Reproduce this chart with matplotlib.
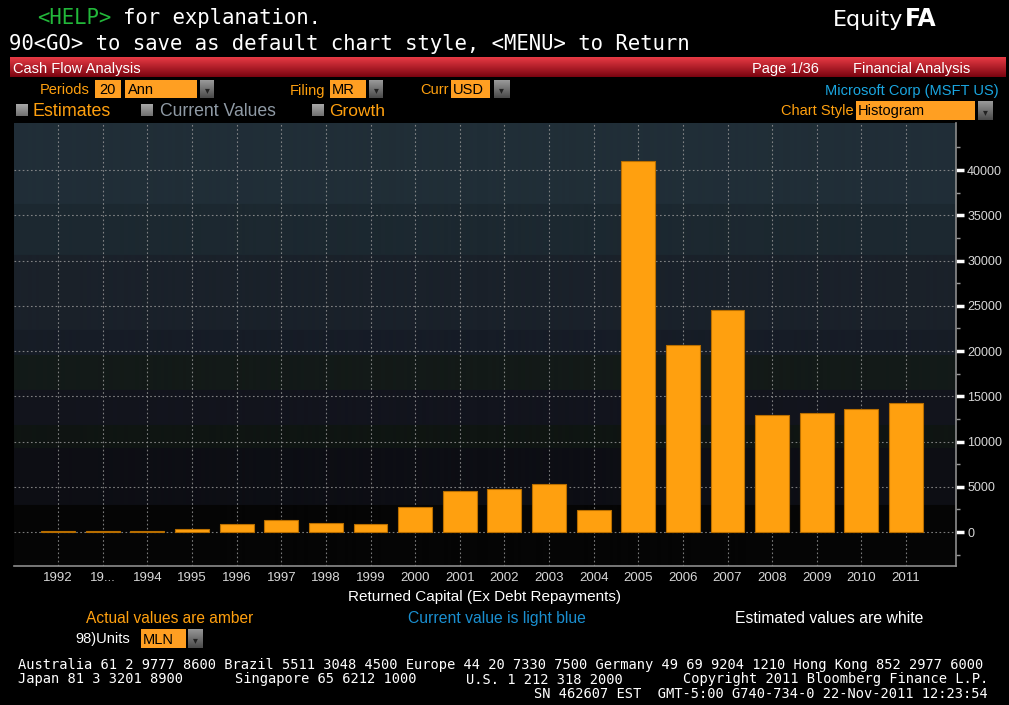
import numpy as np
import matplotlib
matplotlib.use("Agg")
import matplotlib.pyplot as plt
from matplotlib import font_manager
from matplotlib.patches import Rectangle
from matplotlib.colors import to_rgb

# data (USD millions)
years = ['1992', '19...', '1994', '1995', '1996', '1997', '1998', '1999', '2000', '2001',
         '2002', '2003', '2004', '2005', '2006', '2007', '2008', '2009', '2010', '2011']
returned_capital = [90, 70, 80, 350, 850, 1290, 990, 850, 2800, 4560,
                    4710, 5300, 2430, 41010, 20620, 24530, 12900, 13190, 13560, 14300]
y_ticks = [0, 5000, 10000, 15000, 20000, 25000, 30000, 35000, 40000]

AMBER = '#ffa00f'
BOX = '#ff9f22'
W, H = 1009, 705

installed = {f.name for f in font_manager.fontManager.ttflist}
NARROW = 'Liberation Sans Narrow' if 'Liberation Sans Narrow' in installed else 'Liberation Sans'
MONO = 'DejaVu Sans Mono'


def fx(x):
    return x / W


def fy(y):
    return 1 - y / H


def txt(x, y, s, size=10, color='white', ha='left', family=NARROW, **kw):
    # text boxes sit a touch high with va='center', nudge them down
    fig.text(fx(x), fy(y + 1.5), s, size=size, color=color, ha=ha, va='center', family=family, **kw)


def rect(x0, y0, x1, y1, color, **kw):
    fig.patches.append(Rectangle((fx(x0), fy(y1)), fx(x1) - fx(x0), fy(y0) - fy(y1),
                                 transform=fig.transFigure, facecolor=color, **kw))


def gradient_box(x0, y0, x1, y1, top, bottom):
    a = fig.add_axes([fx(x0), fy(y1), fx(x1) - fx(x0), fy(y0) - fy(y1)])
    t = np.linspace(0, 1, 50)[:, None]
    img = (1 - t) * np.array(to_rgb(top)) + t * np.array(to_rgb(bottom))
    a.imshow(img[:, None, :].repeat(2, axis=1), aspect='auto', extent=(0, 1, 0, 1))
    a.axis('off')
    return a


def dropdown(x0, y0, x1, y1):
    gradient_box(x0, y0, x1, y1, '#9a9a9a', '#4a4a4a')
    txt((x0 + x1) / 2, (y0 + y1) / 2, '▾', size=7, color='#222222', ha='center', family='DejaVu Sans')


def checkbox(x0, y0):
    gradient_box(x0, y0, x0 + 12, y0 + 12, '#a8a8a8', '#707070')


fig = plt.figure(figsize=(W / 100, H / 100), dpi=100, facecolor='black')

# header
txt(37, 17, '<HELP>', size=14.85, color='#22b83a', family=MONO)
txt(123, 17, 'for explanation.', size=14.85, family=MONO)
txt(9, 43, '90<GO> to save as default chart style, <MENU> to Return', size=14.85, family=MONO)
txt(903, 18, 'Equity', size=16, ha='right', family='DejaVu Sans')
txt(905, 18, 'FA', size=17, weight='bold', family='DejaVu Sans')

# red title bar
gradient_box(10, 57, 1006, 77, '#e83a44', '#7a0410')
txt(13, 67, 'Cash Flow Analysis', size=10.5)
txt(752, 67, 'Page 1/36', size=10.5)
txt(853, 67, 'Financial Analysis', size=10.5)

# control rows
txt(40, 89, 'Periods', size=10.5, color=AMBER)
rect(95, 80, 121, 98, BOX)
txt(99, 89, '20', size=10.5, color='black')
rect(125, 80, 197, 98, BOX)
txt(128, 89, 'Ann', size=10.5, color='black')
dropdown(200, 80, 214, 98)
txt(290, 89, 'Filing', size=10.5, color=AMBER)
rect(330, 80, 366, 98, BOX)
txt(332, 89, 'MR', size=10.5, color='black')
dropdown(369, 80, 383, 98)
txt(420, 89, 'Curr', size=10.5, color=AMBER)
rect(451, 80, 490, 98, BOX)
txt(453, 89, 'USD', size=10.5, color='black')
dropdown(494, 80, 509, 98)
txt(999, 89, 'Microsoft Corp (MSFT US)', size=10.5, color='#1aa6e0', ha='right')

checkbox(16, 104)
txt(33, 110, 'Estimates', size=12.9, color=AMBER)
checkbox(141, 104)
txt(160, 110, 'Current Values', size=12.7, color='#8f9aa5')
checkbox(312, 104)
txt(329, 110, 'Growth', size=12.5, color=AMBER)
txt(854, 110, 'Chart Style', size=10.5, color=AMBER, ha='right')
rect(856, 101, 975, 120, BOX)
txt(858, 110, 'Histogram', size=10.5, color='black')
dropdown(978, 101, 993, 120)

# chart
ax = fig.add_axes([fx(14), fy(566), fx(956) - fx(14), fy(123) - fy(566)])
ax.set_facecolor('black')

# stepped dark gradient behind the plot
edges = [0.0, 0.138, 0.266, 0.318, 0.397, 0.476, 0.533, 0.702, 0.819, 1.0]
band_colors = ['#050505', '#0d0e14', '#0f1512', '#12141d', '#131a18',
               '#161c26', '#1a212a', '#1c2830', '#202e37']
rows = np.linspace(0, 1, 443)
bg = np.zeros((len(rows), 1, 3))
for lo, hi, c in zip(edges[:-1], edges[1:], band_colors):
    bg[(rows >= lo) & (rows <= hi), 0, :] = to_rgb(c)
ax.imshow(bg[::-1], aspect='auto', extent=(0, 1, 0, 1), transform=ax.transAxes, zorder=0)

x = np.arange(len(years))
ax.bar(x, returned_capital, width=0.76, color=AMBER, edgecolor='#b86e00', linewidth=0.8, zorder=3)

ax.set_xlim(-0.99, len(years) - 1 + 1.12)
ax.set_ylim(-3750, 45200)
ax.set_xticks(x)
ax.set_xticklabels(years)
ax.set_yticks(y_ticks)
ax.set_yticks(np.arange(-2500, 45000, 2500), minor=True)
ax.yaxis.tick_right()
ax.tick_params(axis='x', length=0, pad=4, labelsize=9.5, labelcolor='#d8d8d8')
ax.tick_params(axis='y', which='major', length=6, width=2.5, color='white', pad=2,
               labelsize=9, labelcolor='#d8d8d8')
ax.tick_params(axis='y', which='minor', length=3, width=1, color='#9a9a9a')
for lab in ax.get_xticklabels() + ax.get_yticklabels():
    lab.set_family(NARROW)

grid_style = dict(color='#9a9a9a', linewidth=0.8, linestyle=(0, (1.5, 2.2)), alpha=0.8, zorder=1)
for yv in y_ticks:
    ax.axhline(yv, **grid_style)
for xv in x:
    ax.axvline(xv, **grid_style)

for side in ['left', 'top']:
    ax.spines[side].set_visible(False)
for side in ['right', 'bottom']:
    ax.spines[side].set_color('#8c8c8c')
    ax.spines[side].set_linewidth(1.2)

ax.set_xlabel('Returned Capital (Ex Debt Repayments)', color='white', size=11,
              family=NARROW, labelpad=5)

# legend texts and units
txt(170, 617, 'Actual values are amber', size=11.2, color=AMBER, ha='center')
txt(497, 617, 'Current value is light blue', size=11.3, color='#1a8fd0', ha='center')
txt(829, 617, 'Estimated values are white', size=11.3, ha='center')
txt(75, 638, '98)Units', size=10.5)
rect(141, 629, 186, 648, BOX)
txt(143, 638, 'MLN', size=10.5, color='black')
dropdown(188, 629, 203, 648)

# footer
txt(18, 664, 'Australia 61 2 9777 8600 Brazil 5511 3048 4500 Europe 44 20 7330 7500 '
    'Germany 49 69 9204 1210 Hong Kong 852 2977 6000', size=9.88, family=MONO)
txt(18, 678, 'Japan 81 3 3201 8900', size=9.88, family=MONO)
txt(235, 678, 'Singapore 65 6212 1000', size=9.88, family=MONO)
txt(466, 678, 'U.S. 1 212 318 2000', size=9.88, family=MONO)
txt(988, 678, 'Copyright 2011 Bloomberg Finance L.P.', size=9.88, ha='right', family=MONO)
txt(988, 692, 'SN 462607 EST  GMT-5:00 G740-734-0 22-Nov-2011 12:23:54', size=9.88, ha='right', family=MONO)

fig.savefig('out.png', dpi=100, facecolor='black')
